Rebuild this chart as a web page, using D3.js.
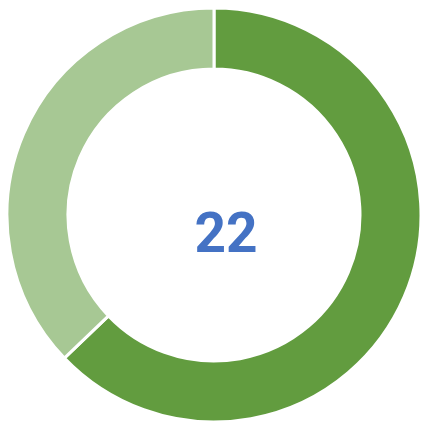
<!DOCTYPE html>
<html>
<head>
<meta charset="utf-8">
<script src="https://d3js.org/d3.v7.min.js"></script>
<style>
  body { margin: 0; background: #fff; }
</style>
</head>
<body>
<svg class="donut" width="423" height="422"></svg>
<script>
// data
const labels = ["Main", "Rest"];
const values = [22, 13];
const colors = ["#629C3F", "#A7C894"];
const centerLabel = "22";

const svg = d3.select("svg.donut");
const cx = 214, cy = 215;

const pie = d3.pie().sort(null).value(d => d)(values);
const arc = d3.arc().innerRadius(146).outerRadius(207);

const g = svg.append("g").attr("transform", `translate(${cx},${cy})`);

g.selectAll("path")
  .data(pie)
  .enter()
  .append("path")
    .attr("d", arc)
    .attr("fill", (d, i) => colors[i])
    .attr("stroke", "#fff")
    .attr("stroke-width", 3);

svg.append("text")
  .attr("x", 226)
  .attr("y", 252)
  .attr("text-anchor", "middle")
  .style("font-family", "Roboto, 'Liberation Sans', sans-serif")
  .style("font-weight", "bold")
  .style("font-size", "55px")
  .style("fill", "#4472C4")
  .text(centerLabel);
</script>
</body>
</html>
